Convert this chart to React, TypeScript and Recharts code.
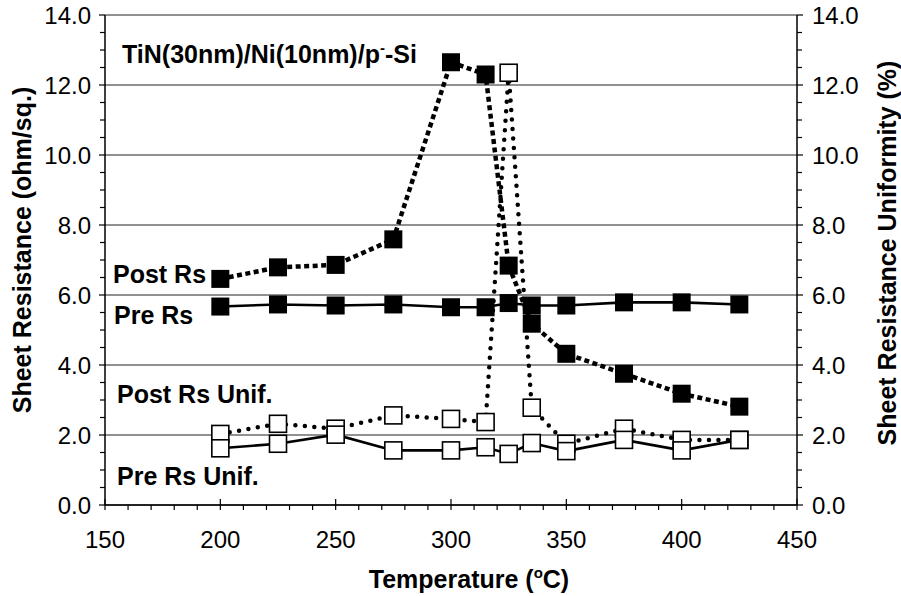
import React from 'react';
import { LineChart, Line, XAxis, YAxis, CartesianGrid } from 'recharts';

// temperature (oC)
const temps = [200, 225, 250, 275, 300, 315, 325, 335, 350, 375, 400, 425];
// sheet resistance (ohm/sq.)
const postRs = [6.46, 6.79, 6.86, 7.59, 12.65, 12.3, 6.84, 5.18, 4.32, 3.75, 3.18, 2.81];
const preRs = [5.67, 5.73, 5.7, 5.73, 5.65, 5.65, 5.77, 5.7, 5.7, 5.79, 5.79, 5.73];
// uniformity (%)
const postRsUnif = [2.03, 2.32, 2.18, 2.56, 2.46, 2.37, 12.35, 2.78, 1.75, 2.18, 1.86, 1.86];
const preRsUnif = [1.62, 1.75, 2.01, 1.56, 1.56, 1.65, 1.46, 1.77, 1.54, 1.86, 1.56, 1.86];

// major ticks get a label, the rest are minor marks only
const xTicks = [150, 160, 170, 180, 190, 200, 210, 220, 230, 240, 250, 260, 270, 280, 290, 300, 310, 320, 330, 340, 350, 360, 370, 380, 390, 400, 410, 420, 430, 440, 450];
const xMajor = [150, 200, 250, 300, 350, 400, 450];
const yTicks = [0, 0.5, 1, 1.5, 2, 2.5, 3, 3.5, 4, 4.5, 5, 5.5, 6, 6.5, 7, 7.5, 8, 8.5, 9, 9.5, 10, 10.5, 11, 11.5, 12, 12.5, 13, 13.5, 14];
const yMajor = [0, 2, 4, 6, 8, 10, 12, 14];

const data = temps.map((t, i) => ({
  temp: t,
  postRs: postRs[i],
  preRs: preRs[i],
  postRsUnif: postRsUnif[i],
  preRsUnif: preRsUnif[i],
}));

const FONT = '"Liberation Sans", Arial, Helvetica, sans-serif';

const FilledSquare = (props: any) => {
  const { cx, cy } = props;
  if (cx == null || cy == null) return <g />;
  return <rect x={cx - 9} y={cy - 9} width={18} height={18} fill="#000" />;
};

const OpenSquare = (props: any) => {
  const { cx, cy } = props;
  if (cx == null || cy == null) return <g />;
  return <rect x={cx - 8.5} y={cy - 8.5} width={17} height={17} fill="#fff" stroke="#000" strokeWidth={1.6} />;
};

// tickSize/tickMargin are 0, so x/y given here sit on the axis line
const LeftTick = (props: any) => {
  const { x, y, payload } = props;
  const major = yMajor.includes(payload.value);
  return (
    <g>
      <line x1={x - (major ? 6 : 5)} x2={x} y1={y} y2={y} stroke="#000" strokeWidth={1.2} />
      {major && (
        <text x={x - 14} y={y} dy="0.355em" textAnchor="end" fontFamily={FONT} fontSize={24} fill="#000">
          {payload.value.toFixed(1)}
        </text>
      )}
    </g>
  );
};

const RightTick = (props: any) => {
  const { x, y, payload } = props;
  const major = yMajor.includes(payload.value);
  return (
    <g>
      <line x1={x} x2={x + (major ? 6 : 5)} y1={y} y2={y} stroke="#000" strokeWidth={1.2} />
      {major && (
        <text x={x + 15} y={y} dy="0.355em" textAnchor="start" fontFamily={FONT} fontSize={24} fill="#000">
          {payload.value.toFixed(1)}
        </text>
      )}
    </g>
  );
};

const BottomTick = (props: any) => {
  const { x, y, payload } = props;
  const major = xMajor.includes(payload.value);
  return (
    <g>
      <line x1={x} x2={x} y1={major ? y - 6 : y} y2={y + 5} stroke="#000" strokeWidth={1.2} />
      {major && (
        <text x={x} y={y + 43} textAnchor="middle" fontFamily={FONT} fontSize={24} fill="#000">
          {payload.value}
        </text>
      )}
    </g>
  );
};

const LeftTitle = (props: any) => {
  const vb = props.viewBox || {};
  const x = vb.x + 22;
  const y = vb.y + vb.height / 2 - 10;
  return (
    <text x={x} y={y} transform={`rotate(-90, ${x}, ${y})`} textAnchor="middle" dominantBaseline="central"
      fontFamily={FONT} fontSize={25} fontWeight="bold" fill="#000">
      Sheet Resistance (ohm/sq.)
    </text>
  );
};

const RightTitle = (props: any) => {
  const vb = props.viewBox || {};
  const x = vb.x + 90;
  const y = vb.y + vb.height / 2 - 7;
  return (
    <text x={x} y={y} transform={`rotate(-90, ${x}, ${y})`} textAnchor="middle" dominantBaseline="central"
      fontFamily={FONT} fontSize={25} fontWeight="bold" fill="#000">
      Sheet Resistance Uniformity (%)
    </text>
  );
};

const BottomTitle = (props: any) => {
  const vb = props.viewBox || {};
  return (
    <text x={vb.x + vb.width / 2 + 18} y={vb.y + 83} textAnchor="middle"
      fontFamily={FONT} fontSize={25} fontWeight="bold" fill="#000">
      Temperature (<tspan fontSize={15} dy={-10}>o</tspan><tspan dy={10}>C)</tspan>
    </text>
  );
};

const App: React.FC = () => {
  return (
    <div style={{ position: 'absolute', left: 0, top: 0, width: 901, height: 596, background: '#fff' }}>
      <LineChart width={901} height={596} data={data} margin={{ top: 15, right: 0, bottom: 0, left: 0 }}>
        <CartesianGrid xAxisId="x" yAxisId="left" vertical={false} horizontal horizontalValues={yMajor}
          stroke="#222" strokeWidth={1} />
        <XAxis xAxisId="x" dataKey="temp" type="number" domain={[150, 450]} ticks={xTicks} interval={0} height={91}
          tick={BottomTick} tickSize={0} tickMargin={0} tickLine={false}
          axisLine={{ stroke: '#000', strokeWidth: 1.5 }} label={<BottomTitle />} />
        <YAxis yAxisId="left" orientation="left" type="number" domain={[0, 14]} ticks={yTicks} interval={0} width={105}
          tick={LeftTick} tickSize={0} tickMargin={0} tickLine={false}
          axisLine={{ stroke: '#000', strokeWidth: 1.5 }} label={<LeftTitle />} />
        <YAxis yAxisId="right" orientation="right" type="number" domain={[0, 14]} ticks={yTicks} interval={0} width={104}
          tick={RightTick} tickSize={0} tickMargin={0} tickLine={false}
          axisLine={{ stroke: '#000', strokeWidth: 1.5 }} label={<RightTitle />} />

        <Line xAxisId="x" yAxisId="right" type="linear" dataKey="postRsUnif" stroke="#000" strokeWidth={4.5}
          strokeDasharray="0 9.5" strokeLinecap="round" dot={<OpenSquare />} activeDot={false} isAnimationActive={false} />
        <Line xAxisId="x" yAxisId="right" type="linear" dataKey="preRsUnif" stroke="#000" strokeWidth={2.6}
          dot={<OpenSquare />} activeDot={false} isAnimationActive={false} />
        <Line xAxisId="x" yAxisId="left" type="linear" dataKey="preRs" stroke="#000" strokeWidth={2.6}
          dot={<FilledSquare />} activeDot={false} isAnimationActive={false} />
        <Line xAxisId="x" yAxisId="left" type="linear" dataKey="postRs" stroke="#000" strokeWidth={4.5}
          strokeDasharray="5 3.5" dot={<FilledSquare />} activeDot={false} isAnimationActive={false} />
      </LineChart>
      <svg width={901} height={596} style={{ position: 'absolute', left: 0, top: 0, pointerEvents: 'none' }}>
        <g fontFamily={FONT} fontSize={25} fontWeight="bold" fill="#000">
          <text x={122} y={63}>
            TiN(30nm)/Ni(10nm)/p<tspan fontSize={15} dy={-10}>-</tspan><tspan dy={10}>-Si</tspan>
          </text>
          <text x={113} y={283}>Post Rs</text>
          <text x={114} y={324}>Pre Rs</text>
          <text x={117} y={403}>Post Rs Unif.</text>
          <text x={117} y={485}>Pre Rs Unif.</text>
        </g>
      </svg>
    </div>
  );
};

export default App;
